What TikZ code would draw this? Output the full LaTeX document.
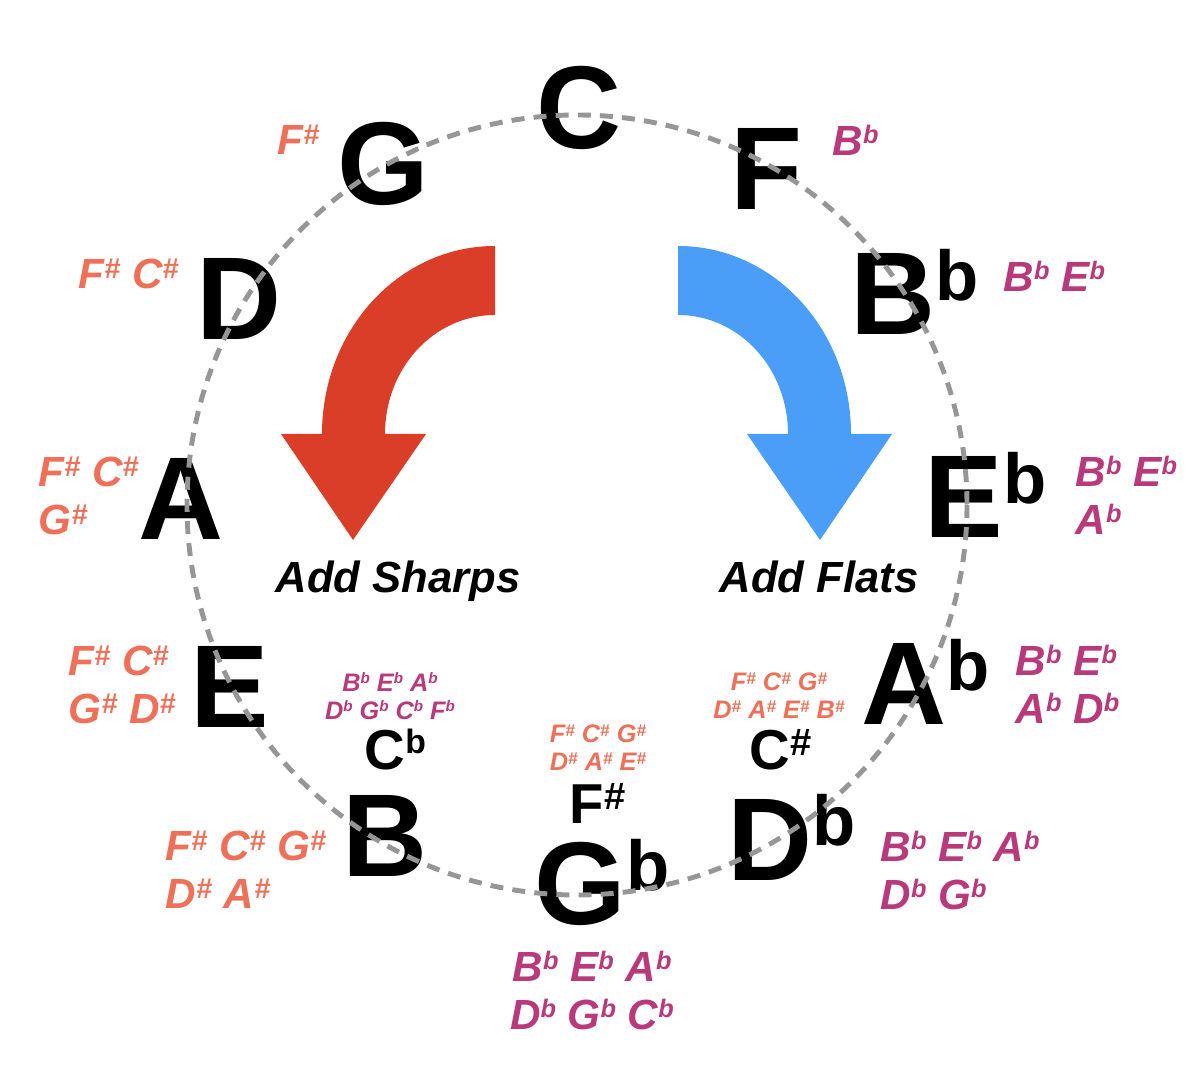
\documentclass[tikz,border=0pt]{standalone}
\usepackage{graphicx}
\usepackage{fontspec}
\setmainfont{Liberation Sans}
\definecolor{sharpcol}{HTML}{EE7058}
\definecolor{flatcol}{HTML}{B93A7A}
\definecolor{sharparrowcol}{HTML}{DA3D28}
\definecolor{flatarrowcol}{HTML}{4A9EF8}
\definecolor{ringgray}{HTML}{969696}
\newcommand{\supr}[1]{\raisebox{0.29em}{\scalebox{0.6}{#1}}}
\newcommand{\flatkey}[1]{#1\supr{b}}
\newcommand{\sharpkey}[1]{#1\raisebox{0.25em}{\scalebox{0.68}{\#}}}
\tikzset{
  key/.style={font=\fontsize{33.5}{40}\selectfont\bfseries,inner sep=0pt,anchor=base west},
  keysmall/.style={font=\fontsize{16}{19}\selectfont\bfseries,inner sep=0pt,anchor=base west},
  sharps/.style={font=\fontsize{12}{13.7}\selectfont\bfseries\itshape,text=sharpcol,
    inner sep=0pt,align=left,anchor=north west},
  flats/.style={font=\fontsize{12}{13.7}\selectfont\bfseries\itshape,text=flatcol,
    inner sep=0pt,align=left,anchor=north west},
  sharpsin/.style={font=\fontsize{7.2}{8}\selectfont\bfseries\itshape,text=sharpcol,
    inner sep=0pt,align=center,anchor=north},
  flatsin/.style={font=\fontsize{7.2}{8}\selectfont\bfseries\itshape,text=flatcol,
    inner sep=0pt,align=center,anchor=north},
  caption/.style={font=\fontsize{12.4}{14}\selectfont\bfseries\itshape,inner sep=0pt,anchor=base},
  ring/.style={draw=ringgray,line width=1.4pt,dash pattern=on 3.7pt off 2.6pt},
  sharparrow/.style={fill=sharparrowcol},
  flatarrow/.style={fill=flatarrowcol},
}

\begin{document}
\begin{tikzpicture}[x=0.01cm,y=-0.01cm]
  \useasboundingbox (0,0) rectangle (1200,1080);
  % the two bent arrows
  \fill[sharparrow] (495,246) .. controls (399,246) and (322,330) .. (322,434)
    -- (281,434) -- (353,540) -- (426,434) -- (385,434)
    .. controls (385,368) and (434,315) .. (495,315) -- cycle;
  \fill[flatarrow] (678,246) .. controls (774,246) and (851,330) .. (851,434)
    -- (892,434) -- (820,540) -- (747,434) -- (788,434)
    .. controls (788,368) and (739,315) .. (678,315) -- cycle;
  \node[caption] (sharpcap) at (398,593) {Add Sharps};
  \node[caption] (flatcap) at (819,593) {Add Flats};
  % the twelve keys, clockwise from the top
  \node[key] (C) at (536,149) {C};
  \node[key] (F) at (730,210) {F};
  \node[key] (Bb) at (850,335) {\flatkey{B}};
  \node[key] (Eb) at (924,538) {\flatkey{E}};
  \node[key] (Ab) at (861,725) {\flatkey{A}};
  \node[key] (Db) at (727,880) {\flatkey{D}};
  \node[key] (Gb) at (534,925) {\flatkey{G}};
  \node[key] (B) at (342,877) {B};
  \node[key] (E) at (190,728) {E};
  \node[key] (A) at (138,540) {A};
  \node[key] (D) at (196,340) {D};
  \node[key] (G) at (337,205) {G};
  % enharmonic spellings
  \node[keysmall] (Cb) at (364,770) {\flatkey{C}};
  \node[keysmall] (Cs) at (749,770) {\sharpkey{C}};
  \node[keysmall] (Fs) at (569,824) {\sharpkey{F}};
  % key signatures, sharp side
  \node[sharps] (sigG) at (277,124) {\sharpkey{F}};
  \node[sharps] (sigD) at (78,258) {\sharpkey{F} \sharpkey{C}};
  \node[sharps] (sigA) at (38,456) {\sharpkey{F} \sharpkey{C}\\\sharpkey{G}};
  \node[sharps] (sigE) at (68,645) {\sharpkey{F} \sharpkey{C}\\\sharpkey{G} \sharpkey{D}};
  \node[sharps] (sigB) at (165,830) {\sharpkey{F} \sharpkey{C} \sharpkey{G}\\\sharpkey{D} \sharpkey{A}};
  \node[sharpsin] (sigFs) at (598,724) {\sharpkey{F} \sharpkey{C} \sharpkey{G}\\\sharpkey{D} \sharpkey{A} \sharpkey{E}};
  \node[sharpsin] (sigCs) at (779,672) {\sharpkey{F} \sharpkey{C} \sharpkey{G}\\\sharpkey{D} \sharpkey{A} \sharpkey{E} \sharpkey{B}};
  % key signatures, flat side
  \node[flats] (sigF) at (832,124) {\flatkey{B}};
  \node[flats] (sigBb) at (1003,260) {\flatkey{B} \flatkey{E}};
  \node[flats] (sigEb) at (1075,455) {\flatkey{B} \flatkey{E}\\\flatkey{A}};
  \node[flats] (sigAb) at (1015,644) {\flatkey{B} \flatkey{E}\\\flatkey{A} \flatkey{D}};
  \node[flats] (sigDb) at (880,830) {\flatkey{B} \flatkey{E} \flatkey{A}\\\flatkey{D} \flatkey{G}};
  \node[flats,align=center,anchor=north] (sigGb) at (592,950) {\flatkey{B} \flatkey{E} \flatkey{A}\\\flatkey{D} \flatkey{G} \flatkey{C}};
  \node[flatsin] (sigCb) at (390,672) {\flatkey{B} \flatkey{E} \flatkey{A}\\\flatkey{D} \flatkey{G} \flatkey{C} \flatkey{F}};
  % dashed ring over the letters
  \draw[ring] (577,505) circle[radius=390];
\end{tikzpicture}
\end{document}
